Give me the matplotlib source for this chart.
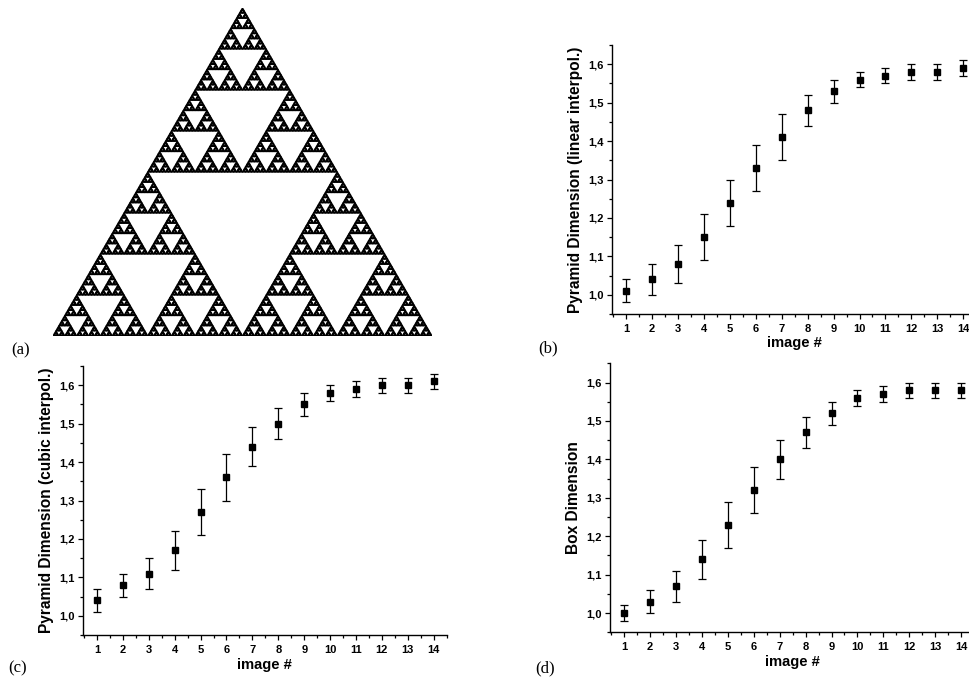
import matplotlib
matplotlib.use("Agg")
import matplotlib.pyplot as plt
from matplotlib.collections import PolyCollection
from matplotlib.ticker import MultipleLocator, FuncFormatter

# ── data ────────────────────────────────────────────────────────────────────
IMAGE_NO = [1, 2, 3, 4, 5, 6, 7, 8, 9, 10, 11, 12, 13, 14]

LINEAR_DIM = [1.01, 1.04, 1.08, 1.15, 1.24, 1.33, 1.41, 1.48, 1.53, 1.56, 1.57, 1.58, 1.58, 1.59]
LINEAR_ERR = [0.03, 0.04, 0.05, 0.06, 0.06, 0.06, 0.06, 0.04, 0.03, 0.02, 0.02, 0.02, 0.02, 0.02]

CUBIC_DIM = [1.04, 1.08, 1.11, 1.17, 1.27, 1.36, 1.44, 1.50, 1.55, 1.58, 1.59, 1.60, 1.60, 1.61]
CUBIC_ERR = [0.03, 0.03, 0.04, 0.05, 0.06, 0.06, 0.05, 0.04, 0.03, 0.02, 0.02, 0.02, 0.02, 0.02]

BOX_DIM = [1.00, 1.03, 1.07, 1.14, 1.23, 1.32, 1.40, 1.47, 1.52, 1.56, 1.57, 1.58, 1.58, 1.58]
BOX_ERR = [0.02, 0.03, 0.04, 0.05, 0.06, 0.06, 0.05, 0.04, 0.03, 0.02, 0.02, 0.02, 0.02, 0.02]

Y_LABELS = ["Pyramid Dimension (linear interpol.)",
            "Pyramid Dimension (cubic interpol.)",
            "Box Dimension"]
X_LABEL = "image #"
PANEL_TAGS = ["(a)", "(b)", "(c)", "(d)"]

SIERPINSKI_DEPTH = 7

W, H = 970, 679
SANS = "Liberation Sans"
SERIF = "Liberation Serif"


def px_rect(left, top, right, bottom):
    """pixel box (origin top-left) -> figure fraction rect"""
    return [left / W, 1 - bottom / H, (right - left) / W, (bottom - top) / H]


def sierpinski(a, b, c, depth, out):
    if depth == 0:
        out.append([a, b, c])
        return
    ab = ((a[0] + b[0]) / 2, (a[1] + b[1]) / 2)
    bc = ((b[0] + c[0]) / 2, (b[1] + c[1]) / 2)
    ca = ((c[0] + a[0]) / 2, (c[1] + a[1]) / 2)
    sierpinski(a, ab, ca, depth - 1, out)
    sierpinski(ab, b, bc, depth - 1, out)
    sierpinski(ca, bc, c, depth - 1, out)


def dim_panel(fig, rect, y, yerr, ylabel):
    ax = fig.add_axes(rect)
    ax.errorbar(IMAGE_NO, y, yerr=yerr, fmt="s", color="black", ms=4.9,
                ecolor="black", elinewidth=0.9, capsize=2.7, capthick=0.9)
    ax.set_xlim(0.45, 14.5)
    ax.set_ylim(0.95, 1.65)
    ax.xaxis.set_major_locator(MultipleLocator(1))
    ax.xaxis.set_minor_locator(MultipleLocator(0.5))
    ax.yaxis.set_major_locator(MultipleLocator(0.1))
    ax.yaxis.set_minor_locator(MultipleLocator(0.05))
    ax.yaxis.set_major_formatter(FuncFormatter(lambda v, _: f"{v:.1f}".replace(".", ",")))
    for side in ("top", "right"):
        ax.spines[side].set_visible(False)
    for side in ("left", "bottom"):
        ax.spines[side].set_linewidth(1.0)
    ax.tick_params(which="major", direction="out", length=3.8, width=0.9)
    ax.tick_params(which="minor", direction="out", length=2.2, width=0.9)
    ax.tick_params(axis="x", which="major", pad=3.2)
    ax.tick_params(axis="y", which="major", pad=2.0)
    for lab in ax.get_xticklabels() + ax.get_yticklabels():
        lab.set_fontfamily(SANS)
        lab.set_fontweight("bold")
        lab.set_fontsize(8.0)
    ax.set_xlabel(X_LABEL, fontfamily=SANS, fontweight="bold", fontsize=10.6, labelpad=2)
    ax.set_ylabel(ylabel, fontfamily=SANS, fontweight="bold", fontsize=11.2, labelpad=4)
    ax.patch.set_alpha(0)
    return ax


fig = plt.figure(figsize=(W / 100, H / 100), dpi=100)

# (a) Sierpinski gasket
ax_a = fig.add_axes(px_rect(53, 8, 432, 336))
tris = []
sierpinski((0.0, 0.0), (1.0, 0.0), (0.5, 1.0), SIERPINSKI_DEPTH, tris)
ax_a.add_collection(PolyCollection(tris, facecolors="black", edgecolors="black",
                                   linewidths=0.95, joinstyle="round"))
ax_a.set_xlim(0, 1)
ax_a.set_ylim(0, 1)
ax_a.axis("off")

# (b), (c), (d) dimension estimates
dim_panel(fig, px_rect(611.7, 45, 976.3, 314), LINEAR_DIM, LINEAR_ERR, Y_LABELS[0])
dim_panel(fig, px_rect(82.7, 366, 446.7, 635), CUBIC_DIM, CUBIC_ERR, Y_LABELS[1])
dim_panel(fig, px_rect(610, 363.3, 974, 632.3), BOX_DIM, BOX_ERR, Y_LABELS[2])

# panel tags
tag_pos = [(11, 354), (538, 352), (8, 672), (535, 672)]
for tag, (x, yb) in zip(PANEL_TAGS, tag_pos):
    fig.text(x / W, 1 - yb / H, tag, fontfamily=SERIF, fontsize=12, ha="left", va="baseline")

fig.savefig("out.png", dpi=100)
